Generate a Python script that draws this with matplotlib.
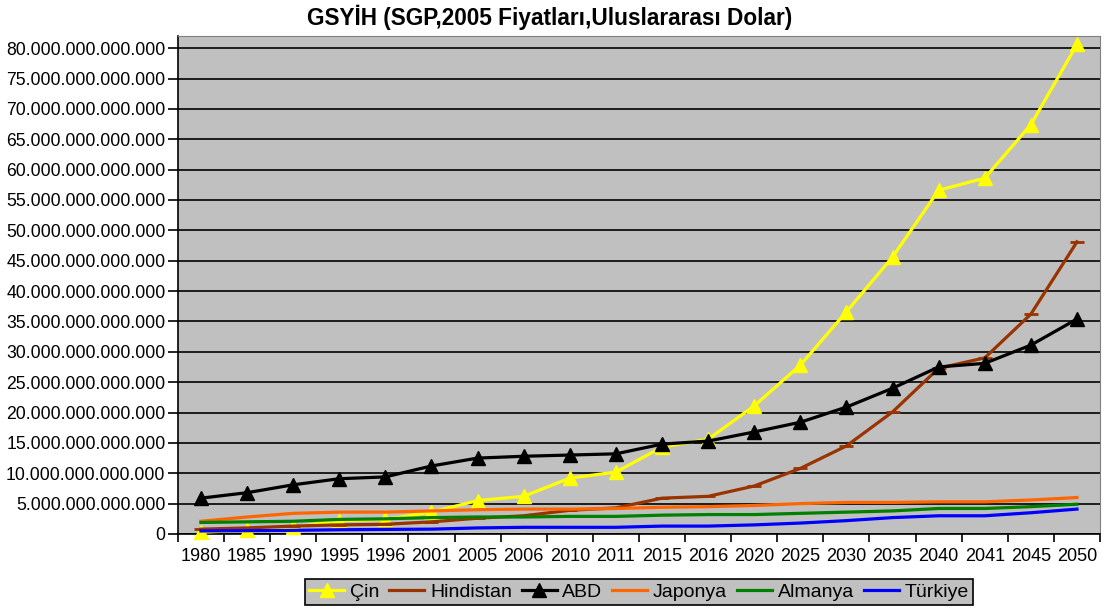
import matplotlib.pyplot as plt
import numpy as np
from matplotlib.ticker import FuncFormatter, MultipleLocator

plt.rcParams['font.family'] = ['Liberation Sans', 'DejaVu Sans']

years = ["1980", "1985", "1990", "1995", "1996", "2001", "2005", "2006", "2010", "2011",
         "2015", "2016", "2020", "2025", "2030", "2035", "2040", "2041", "2045", "2050"]

# values in trillions of dollars
cin = [0.3, 0.6, 1.1, 2.2, 2.4, 3.6, 5.5, 6.2, 9.2, 10.2,
       14.3, 15.6, 21.1, 27.8, 36.6, 45.6, 56.6, 58.6, 67.4, 80.6]
hindistan = [0.8, 1.0, 1.3, 1.5, 1.6, 2.0, 2.6, 3.0, 3.9, 4.3,
             5.9, 6.2, 7.9, 10.8, 14.5, 20.1, 27.3, 29.0, 36.2, 48.1]
abd = [5.9, 6.8, 8.1, 9.1, 9.4, 11.2, 12.5, 12.8, 13.0, 13.2,
       14.8, 15.3, 16.8, 18.4, 20.9, 24.0, 27.5, 28.1, 31.1, 35.4]
japonya = [2.1, 2.8, 3.4, 3.6, 3.6, 3.8, 4.0, 4.1, 4.1, 4.2,
           4.4, 4.5, 4.7, 5.0, 5.2, 5.2, 5.3, 5.3, 5.6, 6.0]
almanya = [1.9, 2.0, 2.1, 2.4, 2.5, 2.7, 2.8, 2.8, 2.9, 2.9,
           3.1, 3.2, 3.2, 3.4, 3.6, 3.8, 4.2, 4.2, 4.5, 4.9]
turkiye = [0.5, 0.55, 0.6, 0.7, 0.75, 0.8, 1.0, 1.1, 1.1, 1.1,
           1.3, 1.3, 1.5, 1.8, 2.2, 2.7, 3.0, 3.0, 3.5, 4.1]

series = [
    ("Çin", cin, "#FFFF00", "^", 10, 1),
    ("Hindistan", hindistan, "#993300", "_", 10, 2),
    ("ABD", abd, "black", "^", 10, 1),
    ("Japonya", japonya, "#FF6600", None, 0, 1),
    ("Almanya", almanya, "#008000", None, 0, 1),
    ("Türkiye", turkiye, "#0000FF", None, 0, 1),
]

fig = plt.figure(figsize=(11.05, 6.1), dpi=100)
ax = fig.add_axes([0.161, 0.1246, 0.8345, 0.8164])
ax.set_facecolor("#C0C0C0")

x = np.arange(len(years))
scale = 1e12
for name, vals, col, mk, ms, mew in series:
    ax.plot(x, np.array(vals) * scale, color=col, lw=2.3, marker=mk, ms=ms, mew=mew,
            label=name, clip_on=False, zorder=3)

ax.set_xlim(-0.5, len(years) - 0.5)
ax.set_ylim(0, 82e12)
ax.yaxis.set_major_locator(MultipleLocator(5e12))
ax.yaxis.set_major_formatter(FuncFormatter(lambda v, p: f"{int(round(v)):,}".replace(",", ".")))
ax.grid(axis="y", color="black", lw=1.2, zorder=1)
ax.set_axisbelow(True)

ax.set_xticks(x)
ax.set_xticklabels(years)
ax.set_xticks(np.arange(-0.5, len(years)), minor=True)
ax.tick_params(axis="x", which="major", length=0, pad=10, labelsize=13)
ax.tick_params(axis="x", which="minor", length=6, width=1.2)
ax.tick_params(axis="y", length=7, width=1.2, labelsize=12.7, pad=2)

for s in ["top", "right"]:
    ax.spines[s].set_color("#808080")
for s in ["left", "bottom"]:
    ax.spines[s].set_color("black")
    ax.spines[s].set_linewidth(1.2)

fig.text(0.497, 0.971, "GSYİH (SGP,2005 Fiyatları,Uluslararası Dolar)", ha="center", va="center",
         fontsize=16.3, fontweight="bold")

leg = ax.legend(loc="center", bbox_to_anchor=(0.5 * (300 + 978) / 1105, 1 - 592 / 610),
                bbox_transform=fig.transFigure, ncol=6, fontsize=14, frameon=True,
                fancybox=False, handlelength=1.8, columnspacing=0.5, handletextpad=0.3,
                borderpad=0.2, borderaxespad=0)
leg.get_frame().set_facecolor("#C0C0C0")
leg.get_frame().set_edgecolor("black")
leg.get_frame().set_linewidth(1.2)
leg.get_frame().set_alpha(1)

fig.savefig("out.png", dpi=100)
